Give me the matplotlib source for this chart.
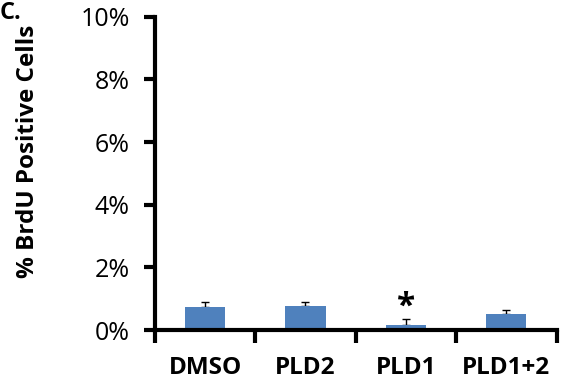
import matplotlib
matplotlib.use('Agg')
import matplotlib.pyplot as plt
import numpy as np
from matplotlib.ticker import FuncFormatter

plt.rcParams['font.family'] = ['Open Sans', 'DejaVu Sans']

groups = ['DMSO', 'PLD2', 'PLD1', 'PLD1+2']
brdu_pct = [0.72, 0.77, 0.17, 0.50]
brdu_err = [0.16, 0.14, 0.19, 0.13]
significant = [False, False, True, False]
yticks = [0, 2, 4, 6, 8, 10]

fig = plt.figure(figsize=(5.61, 3.91), dpi=100)
ax = fig.add_axes([0.276, 0.156, 0.716, 0.801])

x = np.arange(len(groups))
ax.bar(x, brdu_pct, width=0.4, color='#4F81BD', zorder=2)
# upper error bars only; lower half sits behind the bar
ax.errorbar(x, brdu_pct, yerr=[np.zeros(len(groups)), brdu_err], fmt='none',
            ecolor='black', elinewidth=1.0, capsize=2.8, capthick=1.0, zorder=1)

# mark significant group
for xi, v, e, s in zip(x, brdu_pct, brdu_err, significant):
    if s:
        ax.text(xi, v + e + 0.1, '*', ha='center', va='baseline',
                fontsize=24, fontweight='bold')

ax.set_xlim(-0.5, len(groups) - 0.5)
ax.set_ylim(0, 10)
ax.set_yticks(yticks)
ax.yaxis.set_major_formatter(FuncFormatter(lambda v, p: '%d%%' % v))

# category boundary ticks on x axis
ax.set_xticks(np.arange(len(groups) + 1) - 0.5)
ax.set_xticklabels([])
ax.set_xticks(x, minor=True)
ax.set_xticklabels(groups, minor=True, fontsize=17.5, fontweight='bold')
ax.tick_params(axis='x', which='major', direction='out', length=9, width=3)
ax.tick_params(axis='x', which='minor', length=0, pad=19)
ax.tick_params(axis='y', direction='out', length=8, width=3, labelsize=18, pad=10)

for side in ['top', 'right']:
    ax.spines[side].set_visible(False)
for side in ['left', 'bottom']:
    ax.spines[side].set_linewidth(3)

ax.set_ylabel('% BrdU Positive Cells', fontsize=17.5, fontweight='bold')
ax.yaxis.set_label_coords(-0.287, 0.569)
# panel letter
fig.text(0.0, 0.998, 'C.', fontsize=17, fontweight='bold', ha='left', va='top')

fig.savefig('out.png', dpi=100)
